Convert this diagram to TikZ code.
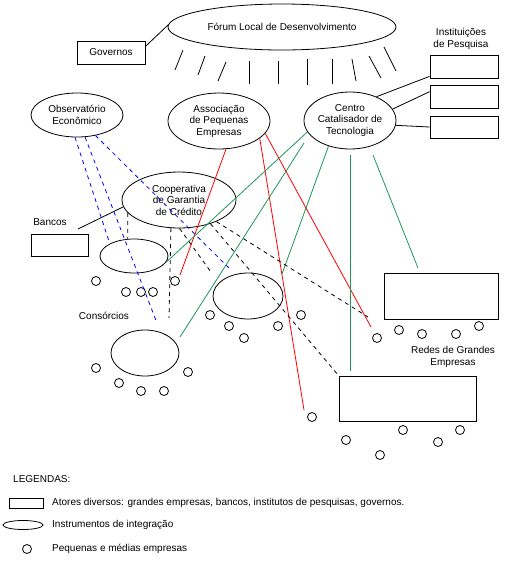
\documentclass[tikz,border=0pt]{standalone}
\usepackage{fontspec}
\setmainfont{Liberation Sans}
\usetikzlibrary{shapes.geometric}
\definecolor{lgreen}{RGB}{30,150,90}
\begin{document}
\begin{tikzpicture}[x=1pt,y=-1pt,
  every node/.style={font=\fontsize{10}{11.5}\selectfont, inner sep=0pt, align=center},
  ell/.style={draw, ellipse, line width=0.8pt},
  box/.style={draw, rectangle, line width=0.8pt},
  sme/.style={draw, circle, minimum size=9pt, line width=0.8pt},
  bline/.style={line width=0.8pt},
  bluedash/.style={draw=blue, dash pattern=on 4pt off 4pt, line width=0.8pt},
  blackdash/.style={draw=black, dash pattern=on 4pt off 4pt, line width=0.8pt},
  redline/.style={draw=red, line width=0.8pt},
  greenline/.style={draw=lgreen, line width=0.8pt}
]
\useasboundingbox (0,0) rectangle (514,566);

% ellipses
\node[ell, minimum width=228pt, minimum height=46pt] (forum) at (282,27) {Fórum Local de Desenvolvimento};
\node[ell, minimum width=92pt, minimum height=44pt] (obs) at (77,115) {Observatório\\Econômico};
\node[ell, minimum width=102pt, minimum height=56pt] (assoc) at (219,121) {Associação\\de Pequenas\\Empresas};
\node[ell, minimum width=92pt, minimum height=57pt] (centro) at (350,120.5) {Centro\\Catalisador de\\Tecnologia};
\node[ell, minimum width=114pt, minimum height=56pt] (coop) at (179,200) {Cooperativa\\de Garantia\\de Crédito};
\node[ell, minimum width=68pt, minimum height=34pt] (e1) at (134,256) {};
\node[ell, minimum width=70pt, minimum height=46pt] (e2) at (248,296) {};
\node[ell, minimum width=68pt, minimum height=46pt] (cons) at (145,353) {};

% boxes
\node[box, minimum width=68pt, minimum height=23pt] (gov) at (111,52.5) {Governos};
\node[box, minimum width=68pt, minimum height=23pt] (inst1) at (464,66.5) {};
\node[box, minimum width=68pt, minimum height=23pt] (inst2) at (464,96.5) {};
\node[box, minimum width=68pt, minimum height=22pt] (inst3) at (464,127) {};
\node[box, minimum width=57pt, minimum height=22pt] (bancos) at (59.5,245) {};
\node[box, minimum width=114pt, minimum height=46pt] (redes1) at (441,296) {};
\node[box, minimum width=137pt, minimum height=45pt] (redes2) at (407.5,398.5) {};

% labels
\node (linst) at (461,39) {Instituições\\de Pesquisa};
\node (lbancos) at (50,222) {Bancos};
\node (lcons) at (104,316) {Consórcios};
\node (lredes) at (453,357) {Redes de Grandes\\Empresas};

% small enterprises
\foreach \p [count=\i] in {(96,281),(126,292),(141,292),(153,292),(175,281),
  (210,315),(229,326),(244,338),(278,326),(301,315),
  (96,368),(119,383),(141,391),(164,391),(188,372),
  (377,338),(399,330),(422,334),(456,334),(479,326),
  (312,417),(346,440),(380,455),(403,430),(438,442),(460,430)}
  \node[sme] (p\i) at \p {};

% rays under the forum
\foreach \xa/\ya/\xb/\yb in {183/50/175/70, 205/56/198/75, 226/62/218/81, 249/61/249/84,
  278/61/278/84, 307/59/307/85, 332/59/332/84, 352/59/356/81,
  369/56/381/78, 384/47/396/71}
  \draw[bline] (\xa,\ya) -- (\xb,\yb);

% free ends
\coordinate (bk) at (78,229);
\coordinate (b2e) at (157,323);
\coordinate (b3e) at (230,269);
\coordinate (r1e) at (180,275);
\coordinate (r2e) at (304,410);
\coordinate (r3e) at (371,327);
\coordinate (g2s) at (304,143);
\coordinate (g2e) at (180,337);
\coordinate (g3e) at (282,274);
\coordinate (g4s) at (350,155);
\coordinate (g4e) at (350,371);
\coordinate (g5s) at (373,155);
\coordinate (g5e) at (418,268);
\coordinate (d2e) at (169,318);
\coordinate (d3e) at (211,272);
\coordinate (d5e) at (368,317);

% black solid connectors
\draw[bline] (gov.10) -- (forum.179);
\draw[bline] (bk) -- (coop.-173);
\draw[bline] (centro.42) -- (inst1.-164);
\draw[bline] (centro.15) -- (inst2.172);
\draw[bline] (centro.-6) -- (inst3.west);

% blue dashed
\draw[bluedash] (obs.-95) -- (e1.153);
\draw[bluedash] (obs.-70) -- (b2e);
\draw[bluedash] (obs.-48) -- (b3e);

% red
\draw[redline] (assoc.-76) -- (r1e);
\draw[redline] (assoc.-23.5) -- (r2e);
\draw[redline] (assoc.-15) -- (r3e);

% green
\draw[greenline] (centro.-165) -- (e1.-11);
\draw[greenline] (g2s) -- (g2e);
\draw[greenline] (centro.-130) -- (g3e);
\draw[greenline] (g4s) -- (g4e);
\draw[greenline] (g5s) -- (g5e);

% black dashed
\draw[blackdash] (coop.-166) -- (e1.110);
\draw[blackdash] (coop.-106) -- (d2e);
\draw[blackdash] (coop.-89) -- (d3e);
\draw[blackdash] (coop.-37) -- (redes2.north west);
\draw[blackdash] (coop.-30) -- (d5e);

% legend
\node[anchor=west] (leg) at (13,479) {LEGENDAS:};
\node[box, minimum width=34pt, minimum height=10pt] (legbox) at (26,503) {};
\node[anchor=west] (legt1) at (52,503) {Atores diversos: grandes empresas, bancos, institutos de pesquisas, governos.};
\node[ell, minimum width=40pt, minimum height=9pt] (legell) at (23,525) {};
\node[anchor=west] (legt2) at (52,525) {Instrumentos de integração};
\node[sme] (legc) at (27,549) {};
\node[anchor=west] (legt3) at (52,549) {Pequenas e médias empresas};
\end{tikzpicture}
\end{document}
